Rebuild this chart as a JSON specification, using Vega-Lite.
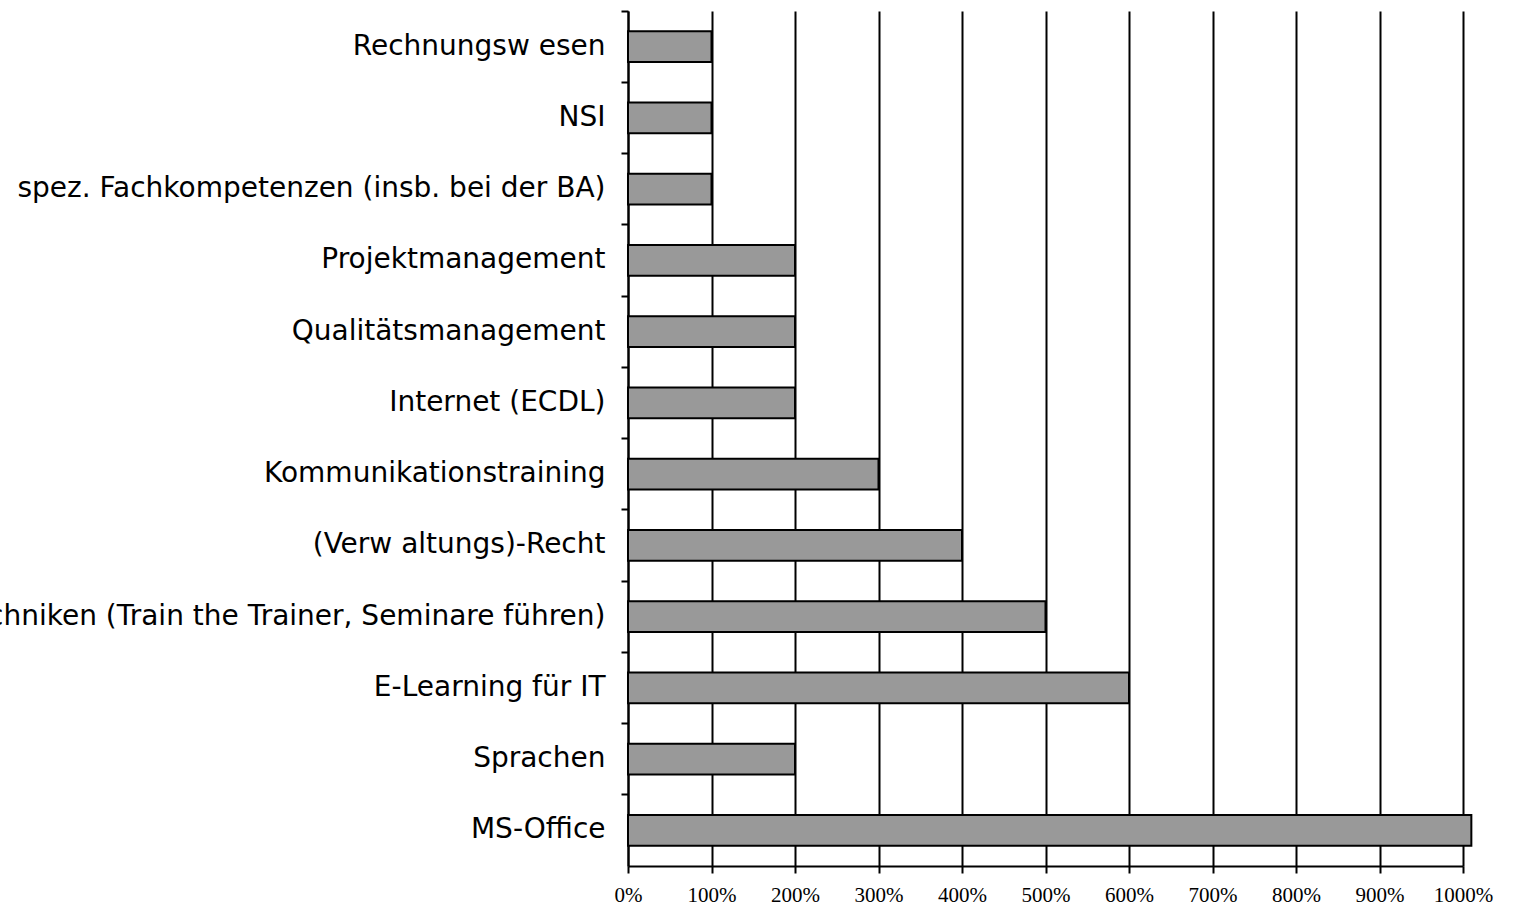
{
  "$schema": "https://vega.github.io/schema/vega-lite/v6.json",
  "width": 835,
  "height": 855,
  "autosize": {"type": "none"},
  "padding": {"left": 628, "top": 11, "right": 55, "bottom": 42},
  "background": "white",
  "config": {"view": {"stroke": null}},
  "data": {
    "values": [
      {"kategorie": "Rechnungsw esen", "wert": 1},
      {"kategorie": "NSI", "wert": 1},
      {"kategorie": "spez. Fachkompetenzen (insb. bei der BA)", "wert": 1},
      {"kategorie": "Projektmanagement", "wert": 2},
      {"kategorie": "Qualitätsmanagement", "wert": 2},
      {"kategorie": "Internet (ECDL)", "wert": 2},
      {"kategorie": "Kommunikationstraining", "wert": 3},
      {"kategorie": "(Verw altungs)-Recht", "wert": 4},
      {"kategorie": "Techniken (Train the Trainer, Seminare führen)", "wert": 5},
      {"kategorie": "E-Learning für IT", "wert": 6},
      {"kategorie": "Sprachen", "wert": 2},
      {"kategorie": "MS-Office", "wert": 10.1}
    ]
  },
  "mark": {"type": "bar", "fill": "#999999", "stroke": "#000000", "strokeWidth": 2, "height": {"band": 0.435}, "clip": false},
  "encoding": {
    "y": {
      "field": "kategorie",
      "type": "nominal",
      "sort": null,
      "scale": {"paddingInner": 0, "paddingOuter": 0},
      "axis": {
        "title": null,
        "bandPosition": 0,
        "domainColor": "#000000",
        "domainWidth": 2,
        "tickColor": "#000000",
        "tickWidth": 2,
        "tickSize": 7,
        "labelPadding": 16,
        "labelFont": "DejaVu Sans",
        "labelFontSize": 28,
        "labelColor": "#000000",
        "labelLimit": 0,
        "grid": false
      }
    },
    "x": {
      "field": "wert",
      "type": "quantitative",
      "scale": {"domain": [0, 10], "nice": false},
      "axis": {
        "title": null,
        "values": [0, 1, 2, 3, 4, 5, 6, 7, 8, 9, 10],
        "format": ".0%",
        "grid": true,
        "gridColor": "#000000",
        "gridWidth": 2,
        "gridOpacity": 1,
        "domainColor": "#000000",
        "domainWidth": 2,
        "tickColor": "#000000",
        "tickWidth": 2,
        "tickSize": 7,
        "labelPadding": 11,
        "labelFont": "Liberation Serif",
        "labelFontSize": 21,
        "labelColor": "#000000",
        "labelFlush": false,
        "labelOverlap": false
      }
    }
  }
}
